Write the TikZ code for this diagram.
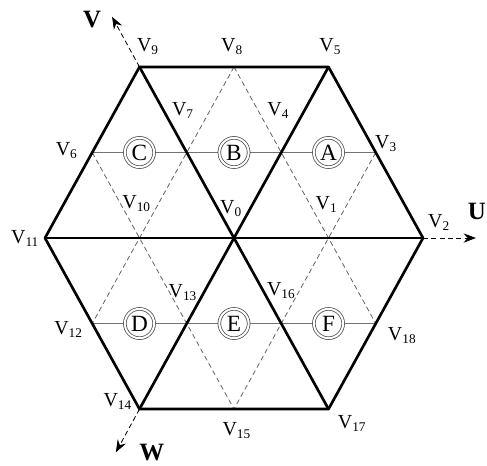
\documentclass[tikz,border=0pt]{standalone}
\usepackage{fontspec}
\setmainfont{Liberation Serif}
\usetikzlibrary{arrows.meta}
\tikzset{
  rim/.style={line width=1.6pt, line join=round},
  midline/.style={line width=0.6pt, draw=black!55},
  gridline/.style={line width=0.5pt, draw=black!60, densely dashed},
  axis/.style={line width=0.5pt, densely dashed, -{Stealth[length=2.6mm]}},
  vlab/.style={font=\fontsize{12}{13}\selectfont, inner sep=0pt},
  sector/.style={circle, draw=black!70, double, double distance=1.2pt,
    line width=0.45pt, fill=white, minimum size=0.62cm, inner sep=0pt,
    font=\fontsize{14}{15}\selectfont},
  axlab/.style={font=\fontsize{15}{16}\selectfont\bfseries, inner sep=0pt}
}
\newcommand{\vv}[1]{V\textsubscript{#1}}

\begin{document}
\begin{tikzpicture}[x=2cm, y=2.09cm]
  \useasboundingbox (-2.476,-2.299) rectangle (2.677,2.410);
  % grid points
  \coordinate (v0) at (0,0);
  \coordinate (v2) at (2,0);
  \coordinate (v3) at (1.5,0.866);
  \coordinate (v5) at (1,1.732);
  \coordinate (v6) at (-1.5,0.866);
  \coordinate (v8) at (0,1.732);
  \coordinate (v9) at (-1,1.732);
  \coordinate (v11) at (-2,0);
  \coordinate (v12) at (-1.5,-0.866);
  \coordinate (v14) at (-1,-1.732);
  \coordinate (v15) at (0,-1.732);
  \coordinate (v17) at (1,-1.732);
  \coordinate (v18) at (1.5,-0.866);
  \coordinate (ut) at (2.56,0);
  \coordinate (vt) at (-1.29,2.24);
  \coordinate (wt) at (-1.25,-2.17);

  % thin lines
  \draw[midline] (v6) -- (v3);
  \draw[midline] (v12) -- (v18);
  \draw[gridline] (v8) -- (v12);
  \draw[gridline] (v8) -- (v18);
  \draw[gridline] (v6) -- (v15);
  \draw[gridline] (v3) -- (v15);

  % hexagon and main lines
  \draw[rim] (v2) -- (v5) -- (v9) -- (v11) -- (v14) -- (v17) -- cycle;
  \draw[rim] (v11) -- (v2);
  \draw[rim] (v9) -- (v17);
  \draw[rim] (v5) -- (v14);

  % axes
  \draw[axis] (v2) -- (ut);
  \draw[axis] (v9) -- (vt);
  \draw[axis] (v14) -- (wt);
  \node[axlab] (lu) at (2.57,0.27) {U};
  \node[axlab] (lv) at (-1.50,2.21) {V};
  \node[axlab] (lw) at (-0.87,-2.17) {W};

  % sectors
  \node[sector] (sa) at (1,0.866) {A};
  \node[sector] (sb) at (0,0.866) {B};
  \node[sector] (sc) at (-1,0.866) {C};
  \node[sector] (sd) at (-1,-0.866) {D};
  \node[sector] (se) at (0,-0.866) {E};
  \node[sector] (sf) at (1,-0.866) {F};

  % vector labels
  \node[vlab] (l0) at (-0.03,0.30) {\vv{0}};
  \node[vlab] (l1) at (0.98,0.34) {\vv{1}};
  \node[vlab] (l2) at (2.17,0.16) {\vv{2}};
  \node[vlab] (l3) at (1.61,0.96) {\vv{3}};
  \node[vlab] (l4) at (0.47,1.29) {\vv{4}};
  \node[vlab] (l5) at (1.02,1.94) {\vv{5}};
  \node[vlab] (l6) at (-1.77,0.89) {\vv{6}};
  \node[vlab] (l7) at (-0.54,1.29) {\vv{7}};
  \node[vlab] (l8) at (-0.02,1.94) {\vv{8}};
  \node[vlab] (l9) at (-0.91,1.94) {\vv{9}};
  \node[vlab] (l10) at (-1.03,0.35) {\vv{10}};
  \node[vlab] (l11) at (-2.21,0) {\vv{11}};
  \node[vlab] (l12) at (-1.75,-0.93) {\vv{12}};
  \node[vlab] (l13) at (-0.54,-0.55) {\vv{13}};
  \node[vlab] (l14) at (-1.23,-1.66) {\vv{14}};
  \node[vlab] (l15) at (0.03,-1.95) {\vv{15}};
  \node[vlab] (l16) at (0.50,-0.53) {\vv{16}};
  \node[vlab] (l17) at (1.25,-1.88) {\vv{17}};
  \node[vlab] (l18) at (1.78,-0.99) {\vv{18}};
\end{tikzpicture}
\end{document}
